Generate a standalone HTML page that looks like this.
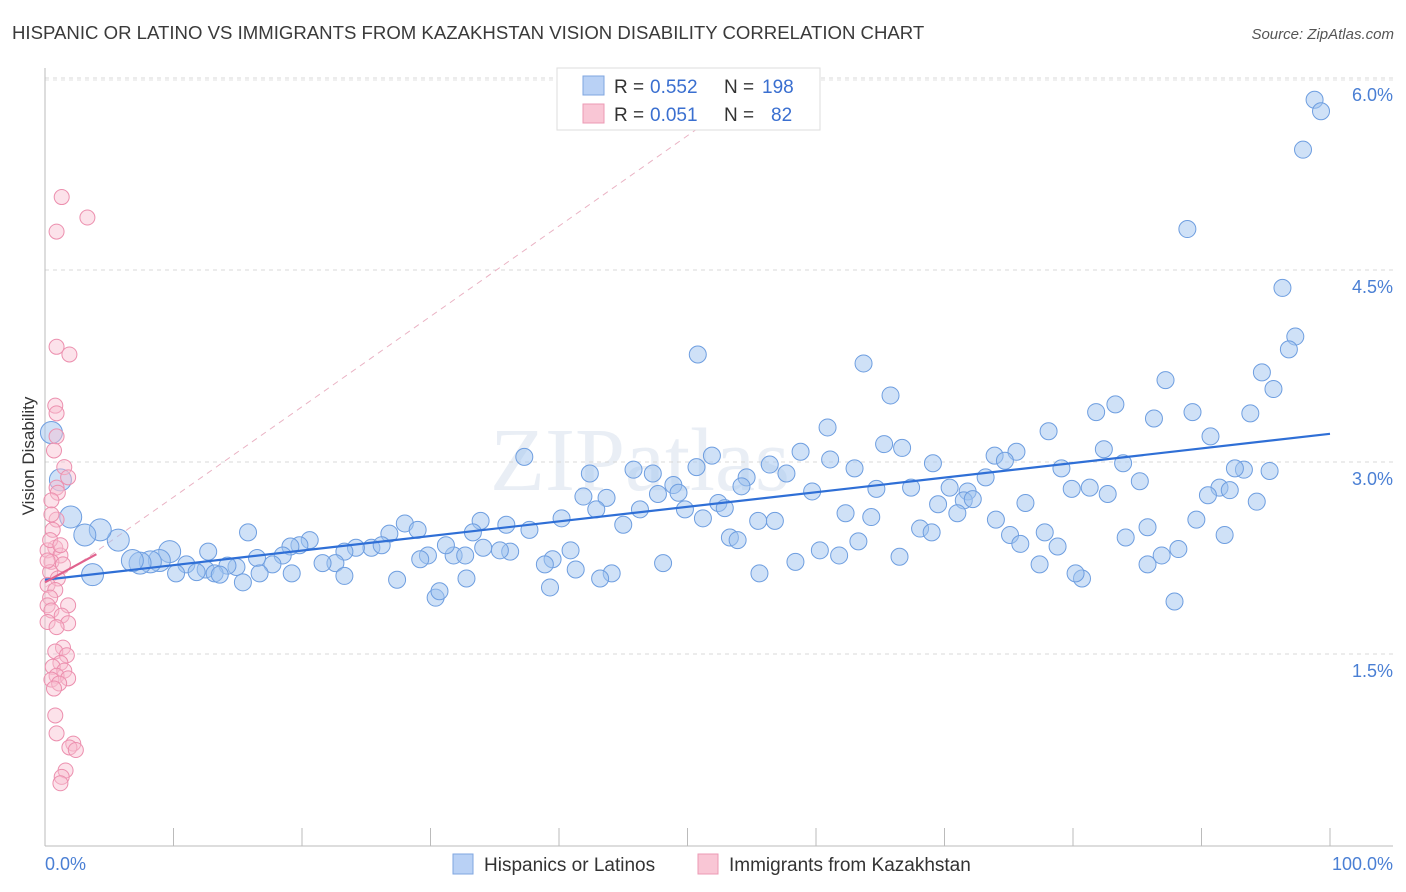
<!DOCTYPE html>
<html><head><meta charset="utf-8"><style>
body{margin:0;background:#fff;font-family:"Liberation Sans",sans-serif;}
svg{display:block}
</style></head><body>
<svg id="chart" width="1406" height="892" xmlns="http://www.w3.org/2000/svg">
<text x="12" y="39" font-size="18.6" fill="#3a3a3a">HISPANIC OR LATINO VS IMMIGRANTS FROM KAZAKHSTAN VISION DISABILITY CORRELATION CHART</text>
<text x="1394" y="39" font-size="15" fill="#555" font-style="italic" text-anchor="end">Source: ZipAtlas.com</text>
<text x="640" y="490" font-size="90" fill="#e9eef5" text-anchor="middle" font-family="Liberation Serif, serif">ZIPatlas</text>
<text x="34" y="456" font-size="17" fill="#333" text-anchor="middle" transform="rotate(-90 34 456)">Vision Disability</text>
<g id="grid"></g><g id="axes"></g><g id="marks"></g>
<g>
<rect x="557" y="68" width="263" height="62" fill="#fff" stroke="#ddd"/>
<rect x="583" y="76" width="21" height="19" fill="#b9d1f5" stroke="#7fa6e0"/>
<rect x="583" y="104" width="21" height="19" fill="#f9c6d5" stroke="#ec9ab4"/>
<text x="614" y="93" font-size="19" fill="#333">R =</text>
<text x="650" y="93" font-size="19" fill="#3a6fd0">0.552</text>
<text x="724" y="93" font-size="19" fill="#333">N =</text>
<text x="762" y="93" font-size="19" fill="#3a6fd0">198</text>
<text x="614" y="121" font-size="19" fill="#333">R =</text>
<text x="650" y="121" font-size="19" fill="#3a6fd0">0.051</text>
<text x="724" y="121" font-size="19" fill="#333">N =</text>
<text x="771" y="121" font-size="19" fill="#3a6fd0">82</text>
</g>
<g>
<rect x="453" y="854" width="20" height="20" fill="#b9d1f5" stroke="#7fa6e0"/>
<text x="484" y="871" font-size="19" fill="#333">Hispanics or Latinos</text>
<rect x="698" y="854" width="20" height="20" fill="#f9c6d5" stroke="#ec9ab4"/>
<text x="729" y="871" font-size="19" fill="#333">Immigrants from Kazakhstan</text>
</g>
</svg>
<script>
const yTicks=[1.5,3.0,4.5,6.0];
const yTickLabels=["1.5%","3.0%","4.5%","6.0%"];
const blueX=[98.8,99.3,97.9,88.9,96.3,97.3,96.8,50.8,63.7,94.7,87.2,95.6,65.8,83.3,81.8,93.8,89.3,86.3,60.9,78.1,90.7,65.3,66.7,82.4,75.6,37.3,51.9,93.3,95.3,92.6,73.9,83.9,79.1,69.1,56.4,58.8,61.1,63.0,42.4,45.8,47.3,48.9,50.7,54.6,57.7,73.2,74.7,85.2,81.3,91.4,92.2,64.7,67.4,70.4,71.8,79.9,82.7,59.7,54.2,41.9,43.7,47.7,49.3,42.9,46.3,49.8,52.4,52.9,71.5,72.2,76.3,90.5,94.3,69.5,71.0,62.3,64.3,74.0,89.6,56.8,51.2,55.5,40.2,45.0,33.9,35.9,37.7,28.0,26.8,68.1,69.0,77.8,91.8,75.1,75.9,78.8,84.1,85.8,88.2,86.9,85.8,53.3,53.9,63.3,60.3,66.5,61.8,58.4,48.1,40.9,39.5,38.9,36.2,35.4,34.1,33.3,31.8,32.7,29.8,29.0,31.2,29.2,25.4,26.2,24.2,23.3,22.6,21.6,20.6,19.8,19.1,18.5,17.7,16.5,15.8,14.9,14.2,12.7,12.5,13.2,11.0,10.2,9.7,8.9,8.2,7.4,6.8,5.7,4.3,3.1,1.2,0.5,2.0,3.7,55.6,80.7,80.2,77.4,44.1,43.2,41.3,39.3,30.4,32.8,27.4,23.3,19.2,16.7,15.4,13.6,11.8,87.9,30.7];
const blueY=[5.83,5.74,5.44,4.82,4.36,3.98,3.88,3.84,3.77,3.70,3.64,3.57,3.52,3.45,3.39,3.38,3.39,3.34,3.27,3.24,3.20,3.14,3.11,3.10,3.08,3.04,3.05,2.94,2.93,2.95,3.05,2.99,2.95,2.99,2.98,3.08,3.02,2.95,2.91,2.94,2.91,2.82,2.96,2.88,2.91,2.88,3.01,2.85,2.80,2.80,2.78,2.79,2.80,2.80,2.77,2.79,2.75,2.77,2.81,2.73,2.72,2.75,2.76,2.63,2.63,2.63,2.68,2.64,2.70,2.71,2.68,2.74,2.69,2.67,2.60,2.60,2.57,2.55,2.55,2.54,2.56,2.54,2.56,2.51,2.54,2.51,2.47,2.52,2.44,2.48,2.45,2.45,2.43,2.43,2.36,2.34,2.41,2.49,2.32,2.27,2.20,2.41,2.39,2.38,2.31,2.26,2.27,2.22,2.21,2.31,2.24,2.20,2.30,2.31,2.33,2.45,2.27,2.27,2.27,2.47,2.35,2.24,2.33,2.35,2.33,2.30,2.21,2.21,2.39,2.35,2.34,2.27,2.20,2.25,2.45,2.18,2.19,2.30,2.16,2.13,2.20,2.13,2.30,2.23,2.22,2.21,2.23,2.39,2.47,2.43,2.86,3.23,2.57,2.12,2.13,2.09,2.13,2.20,2.13,2.09,2.16,2.02,1.94,2.09,2.08,2.11,2.13,2.13,2.06,2.12,2.14,1.91,1.99];
const pinkX=[1.3,3.3,0.9,0.9,1.9,0.8,0.9,0.9,0.7,1.5,1.8,0.9,1.0,0.5,0.9,0.6,0.8,0.2,1.2,0.5,1.4,0.4,1.0,0.2,0.8,0.4,0.2,1.8,0.5,1.3,0.2,1.8,0.9,1.4,0.8,1.7,1.2,0.6,1.5,0.9,1.8,0.5,1.1,0.7,0.8,0.9,2.2,1.9,2.4,1.6,1.3,1.2,0.4,0.2,1.2,0.5];
const pinkY=[5.07,4.91,4.80,3.90,3.84,3.44,3.38,3.20,3.09,2.96,2.88,2.80,2.76,2.70,2.55,2.47,2.33,2.31,2.27,2.22,2.20,2.14,2.09,2.04,2.00,1.94,1.88,1.88,1.84,1.80,1.75,1.74,1.71,1.55,1.52,1.49,1.43,1.40,1.37,1.33,1.31,1.30,1.27,1.23,1.02,0.88,0.80,0.77,0.75,0.59,0.54,0.49,2.39,2.23,2.35,2.59];
const blueTrend=[[0,2.08],[100,3.22]];
const pinkTrend=[[0,2.06],[4,2.28]];
const pinkDash=[[0,2.02],[51,5.62]];
const X=v=>45+v*12.85, Y=v=>654-(v-1.5)*128;
const NS="http://www.w3.org/2000/svg";
function mk(tag,attrs,parent){const e=document.createElementNS(NS,tag);for(const k in attrs)e.setAttribute(k,attrs[k]);document.getElementById(parent).appendChild(e);return e;}
yTicks.forEach((t,i)=>{
  const g=mk('line',{x1:45,x2:1393,y1:Y(t),y2:Y(t),stroke:'#d8d8d8','stroke-dasharray':'4,4'},'grid');
  
  
  const l=mk('text',{x:1393,y:Y(t)+23,'font-size':18,fill:'#4a7fd4','text-anchor':'end'},'grid');
  l.textContent=yTickLabels[i];
  
  
});
const topGrid=mk('line',{x1:45,x2:1393,y1:80,y2:80,stroke:'#e2e2e2','stroke-dasharray':'4,4'},'grid');


const ya=mk('line',{x1:45,x2:45,y1:68,y2:846,stroke:'#bbb'},'axes');


const xa=mk('line',{x1:45,x2:1393,y1:846,y2:846,stroke:'#bbb'},'axes');


for(let i=1;i<=10;i++){
  const t=mk('line',{x1:X(i*10),x2:X(i*10),y1:828,y2:846,stroke:'#bbb'},'axes');
  
  
}
const xl0=mk('text',{x:45,y:870,'font-size':18,fill:'#4a7fd4'},'axes');xl0.textContent='0.0%';


const xl1=mk('text',{x:1393,y:870,'font-size':18,fill:'#4a7fd4','text-anchor':'end'},'axes');xl1.textContent='100.0%';


const pd=mk('line',{x1:X(pinkDash[0][0]),y1:Y(pinkDash[0][1]),x2:X(pinkDash[1][0]),y2:Y(pinkDash[1][1]),stroke:'#eab3c4','stroke-dasharray':'6,5','stroke-width':1},'marks');


blueX.forEach((v,i)=>{
  const c=mk('circle',{cx:X(v),cy:Y(blueY[i]),r:v<10?11:8.5,fill:'rgba(160,195,240,0.5)',stroke:'#6e9ee0','stroke-width':1},'marks');
  
  
});
pinkX.forEach((v,i)=>{
  const c=mk('circle',{cx:X(v),cy:Y(pinkY[i]),r:7.5,fill:'rgba(248,190,208,0.45)',stroke:'#ec8fae','stroke-width':1},'marks');
  
  
});
const bt=mk('line',{x1:X(blueTrend[0][0]),y1:Y(blueTrend[0][1]),x2:X(blueTrend[1][0]),y2:Y(blueTrend[1][1]),stroke:'#2f6fd6','stroke-width':2.2},'marks');


const pt=mk('line',{x1:X(pinkTrend[0][0]),y1:Y(pinkTrend[0][1]),x2:X(pinkTrend[1][0]),y2:Y(pinkTrend[1][1]),stroke:'#e0628e','stroke-width':2.2},'marks');


</script>
</body></html>
